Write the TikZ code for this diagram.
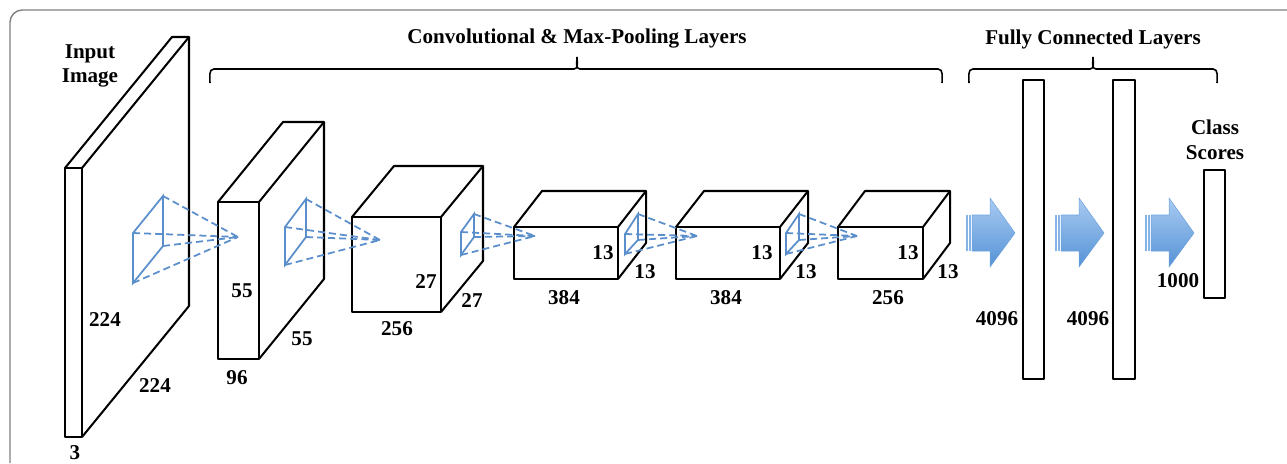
\documentclass[tikz,border=0pt]{standalone}
\usepackage{fontspec}
\setmainfont{Liberation Serif}[BoldFont={Liberation Serif Bold}]
\definecolor{FilterBlue}{HTML}{5B8FCB}
\definecolor{ArrowLight}{HTML}{A9CBF2}
\definecolor{ArrowDark}{HTML}{5592D6}
\definecolor{FrameGray}{HTML}{7F7F7F}

% front face at (x,y) with size w x h, depth offset dx to the right, dy up
\newcommand{\convbox}[6]{%
  \draw[boxline] (#1,#2) rectangle ++(#3,#4);
  \draw[boxline] (#1,#2) -- ++(#5,-#6) -- ++(#3,0) -- ++(0,#4) -- ++(-#5,#6);
  \draw[boxline] (#1+#3,#2) -- ++(#5,-#6);
}
% flat brace from x1 to x2 with its tip at xm
\newcommand{\layerbrace}[3]{%
  \draw[bracepen] (#1,83) to[out=90,in=180] (#1+4,69) -- (#3-3,69)
    to[out=0,in=-90] (#3,57) to[out=-90,in=180] (#3+3,69) -- (#2-4,69)
    to[out=0,in=90] (#2,83);
}

\begin{document}
\begin{tikzpicture}[x=0.02cm, y=-0.02cm,
    boxline/.style={line width=1.15pt, line join=round},
    filt/.style={FilterBlue, line width=1pt},
    filtdash/.style={FilterBlue, line width=1pt, dash pattern=on 4pt off 2.3pt},
    lbl/.style={font=\bfseries\fontsize{12}{14}\selectfont, inner sep=0pt, align=center},
    bracepen/.style={line width=0.9pt}]
    \useasboundingbox (0,0) rectangle (1287,463);
    % Frame
    \draw[FrameGray, line width=0.8pt, rounded corners=7pt] (10,463) -- (10,10) -- (1287,10);

    % Input image and feature maps
    \convbox{65}{168}{17}{269}{107}{131}
    \convbox{218}{202}{41}{157}{65}{80}
    \convbox{352}{217}{89}{95}{42}{51}
    \convbox{514}{227}{104}{52}{28}{36}
    \convbox{676}{227}{104}{52}{28}{36}
    \convbox{838}{227}{85}{52}{27}{36}

    % Receptive fields
    \foreach \fx/\ft/\fb/\bx/\bt/\bb/\ax/\ay [count=\i] in {
        133/233/283/163/196/246/238/237,
        285/227/265/306/199/237/380/240,
        461/232/255/474/214/237/535/236,
        625/234/254/638/214/240/697/236,
        786/233/254/799/214/240/857/236} {
        \coordinate (r\i-ft) at (\fx,\ft);
        \coordinate (r\i-fb) at (\fx,\fb);
        \coordinate (r\i-bt) at (\bx,\bt);
        \coordinate (r\i-bb) at (\bx,\bb);
        \coordinate (r\i-apex) at (\ax,\ay);
        \draw[filt] (r\i-ft) -- (r\i-bt) -- (r\i-bb) -- (r\i-fb) -- cycle;
        \foreach \c in {ft, fb, bt, bb} {
            \draw[filtdash] (r\i-\c) -- (r\i-apex);
        }
    }

    % Fully connected layers
    \draw[boxline] (1023,80) rectangle (1044,379);
    \draw[boxline] (1113,80) rectangle (1135,379);
    \draw[boxline] (1204,170) rectangle (1225,298);

    % Arrows
    \foreach \ax in {966, 1055, 1145} {
        \fill[ArrowLight!60!ArrowDark] (\ax,215) rectangle (\ax+2,251);
        \fill[ArrowLight!60!ArrowDark] (\ax+3,215) rectangle (\ax+5,251);
        \shadedraw[top color=ArrowLight, bottom color=ArrowDark, draw=ArrowDark!85, line width=0.3pt]
            (\ax+6,215) -- (\ax+24,215) -- (\ax+24,198) -- (\ax+49,233)
            -- (\ax+24,267) -- (\ax+24,251) -- (\ax+6,251) -- cycle;
    }

    % Braces
    \layerbrace{210}{942}{577}
    \layerbrace{969}{1217}{1093}

    % Labels
    \node[lbl] (title-conv) at (577,39) {Convolutional \& Max-Pooling Layers};
    \node[lbl] (title-fc) at (1093,39) {Fully Connected Layers};
    \node[lbl] (input) at (90,66) {Input\\Image};
    \node[lbl] (scores) at (1215,140) {Class\\Scores};
    \node[lbl] (in-h) at (105,320) {224};
    \node[lbl] (in-w) at (155,386) {224};
    \node[lbl] (in-d) at (75,453) {3};
    \node[lbl] (c1-h) at (242,291) {55};
    \node[lbl] (c1-w) at (302,339) {55};
    \node[lbl] (c1-d) at (237,378) {96};
    \node[lbl] (c2-h) at (426,282) {27};
    \node[lbl] (c2-w) at (472,301) {27};
    \node[lbl] (c2-d) at (397,329) {256};
    \node[lbl] (c3-h) at (603,253) {13};
    \node[lbl] (c3-w) at (645,272) {13};
    \node[lbl] (c3-d) at (564,298) {384};
    \node[lbl] (c4-h) at (762,253) {13};
    \node[lbl] (c4-w) at (806,272) {13};
    \node[lbl] (c4-d) at (726,298) {384};
    \node[lbl] (c5-h) at (908,253) {13};
    \node[lbl] (c5-w) at (948,272) {13};
    \node[lbl] (c5-d) at (888,298) {256};
    \node[lbl] (fc1) at (997,319) {4096};
    \node[lbl] (fc2) at (1088,319) {4096};
    \node[lbl] (fc3) at (1178,281) {1000};
\end{tikzpicture}
\end{document}
